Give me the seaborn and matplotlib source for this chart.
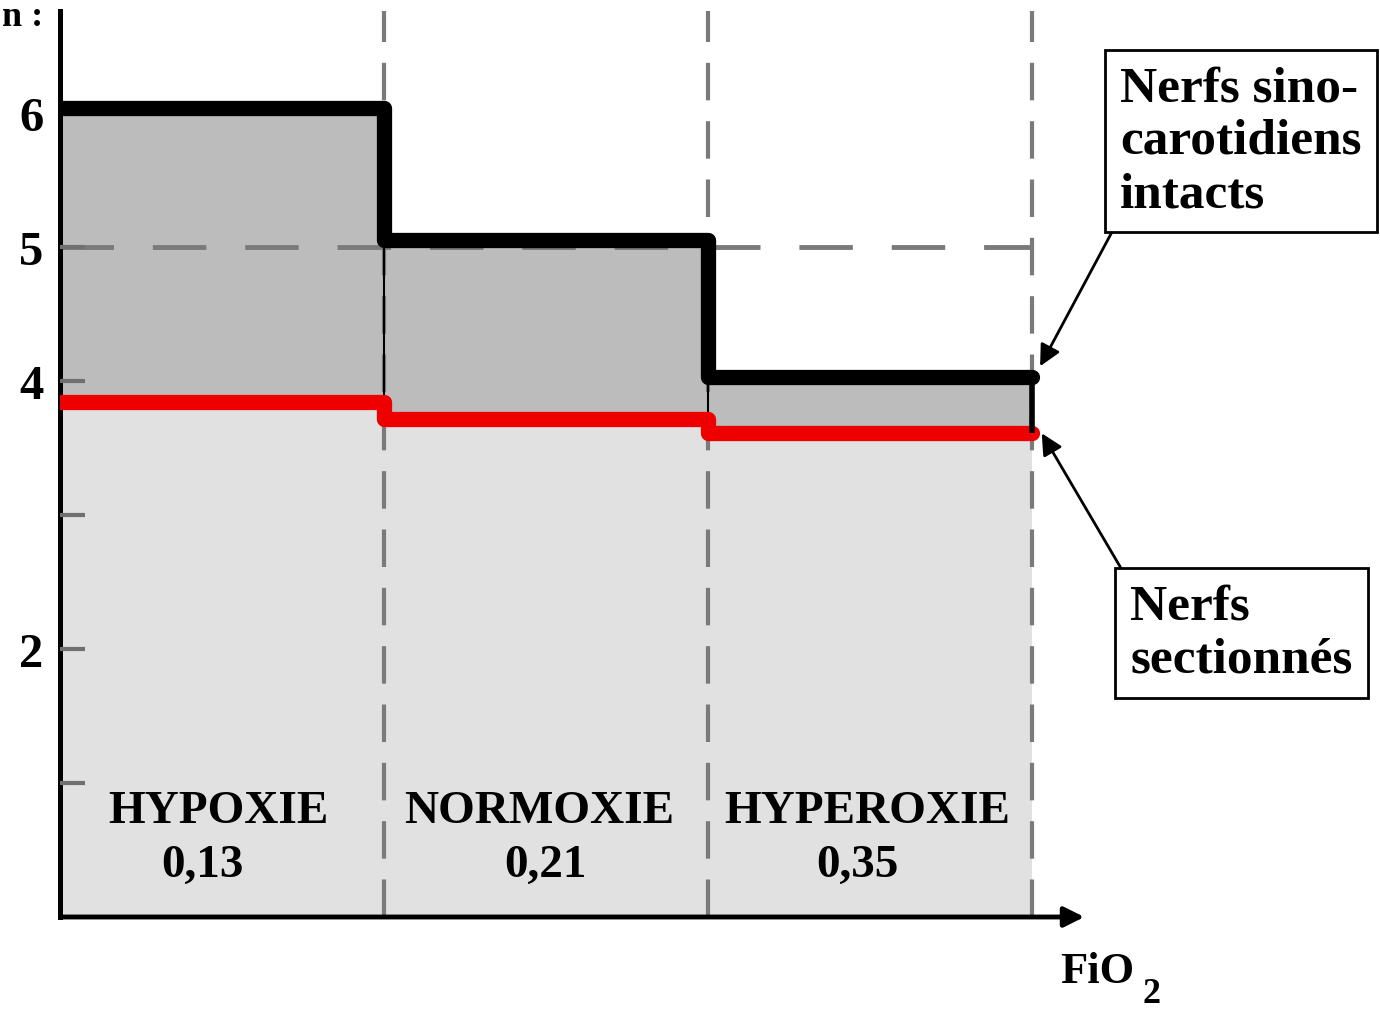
import matplotlib
matplotlib.use("Agg")
import numpy as np
import pandas as pd
import matplotlib.pyplot as plt
import seaborn as sns

# data
conditions = ["HYPOXIE", "NORMOXIE", "HYPEROXIE"]
fio2_labels = ["0,13", "0,21", "0,35"]
intact = [6.04, 5.05, 4.03]       # nerfs sino-carotidiens intacts
sectioned = [3.84, 3.72, 3.61]    # nerfs sectionnés
ytick_vals = [1, 2, 3, 4, 5, 6]
ytick_labels = ["", "2", "", "4", "5", "6"]

sns.set_theme(style="white")
plt.rcParams["font.family"] = ["Liberation Serif", "DejaVu Serif"]
plt.rcParams["font.weight"] = "bold"
plt.rcParams["text.color"] = "black"
plt.rcParams["ytick.labelcolor"] = "black"

fig = plt.figure(figsize=(13.8, 10.12), dpi=100)
W, H = 1380, 1012
# x: 0 -> 60px, 1 unit = 324px ; y: 0 -> 918px, 1 unit = 134px
ax = fig.add_axes([60 / W, (H - 918) / H, (1084 - 60) / W, (918 - 12) / H])
ax.set_xlim(0, (1084 - 60) / 324)
ax.set_ylim(0, (918 - 12) / 134)
ax.set_axisbelow(False)

edges = np.arange(len(conditions) + 1)
df = pd.DataFrame({
    "x": edges,
    "intact": intact + [intact[-1]],
    "sectioned": sectioned + [sectioned[-1]],
})

# fills
ax.fill_between(df["x"], 0, df["sectioned"], step="post", color="#e1e1e1", lw=0, zorder=1)
ax.fill_between(df["x"], df["sectioned"], df["intact"], step="post", color="#bcbcbc", lw=0, zorder=1)

# dashed guides
top = ax.get_ylim()[1]
for xv in edges[1:]:
    ax.plot([xv, xv], [0, top], color="#7a7a7a", lw=3, dashes=(9, 5), zorder=2)
ax.plot([0, 3], [5, 5], color="#7a7a7a", lw=3.5, dashes=(11, 8), zorder=2)

# thin edges of the grey blocks
for i in range(1, len(conditions)):
    ax.vlines(i, min(sectioned[i - 1], sectioned[i]), intact[i - 1], color="black", lw=1.5, zorder=3)

# series
sns.lineplot(data=df, x="x", y="sectioned", ax=ax, color="#ee0000", lw=11,
             drawstyle="steps-post", zorder=4)
sns.lineplot(data=df, x="x", y="intact", ax=ax, color="black", lw=11,
             drawstyle="steps-post", zorder=5)
ax.vlines(3, sectioned[-1], intact[-1], color="black", lw=4, zorder=5)

# axes styling
for s in ["top", "right", "bottom"]:
    ax.spines[s].set_visible(False)
ax.spines["left"].set_color("black")
ax.spines["left"].set_linewidth(3.6)
ax.annotate("", xy=(3.17, 0), xytext=(0, 0),
            arrowprops=dict(arrowstyle="-|>", lw=3.5, color="black", mutation_scale=30),
            annotation_clip=False, zorder=6)
ax.set_xticks([])
ax.set_yticks(ytick_vals)
ax.set_yticklabels(ytick_labels, fontsize=35, fontweight="bold", color="black")
ax.tick_params(axis="y", direction="in", length=18, width=3, color="#707070", pad=12, left=True)
ax.set_xlabel("")
ax.set_ylabel("")

# condition labels
word_dx = [-0.01, -0.02, -0.01]
num_dx = [-0.06, 0.0, -0.04]
for i, (c, f) in enumerate(zip(conditions, fio2_labels)):
    ax.text(i + 0.5 + word_dx[i], (918 - 812) / 134, c, ha="center", va="center",
            fontsize=34, fontweight="bold", color="black", zorder=6)
    ax.text(i + 0.5 + num_dx[i], (918 - 866) / 134, f, ha="center", va="center",
            fontsize=34, fontweight="bold", color="black", zorder=6)

# axis labels
fig.text(1060 / W, 1 - 972 / H, "FiO", fontsize=32, fontweight="bold", va="center", ha="left")
fig.text(1142 / W, 1 - 995 / H, "2", fontsize=26, fontweight="bold", va="center", ha="left")
fig.text(2 / W, 1 - 1 / H, "n :", fontsize=26, fontweight="bold", va="top", ha="left")

# annotations
box = dict(boxstyle="square,pad=0.3", fc="white", ec="black", lw=2)
ax.annotate("Nerfs sino-\ncarotidiens\nintacts", xy=(3.025, intact[-1] + 0.08),
            xytext=(1120 / W, 1 - 142 / H), textcoords="figure fraction",
            fontsize=37, fontweight="bold", va="center", ha="left", linespacing=1.2,
            bbox=box, annotation_clip=False, zorder=7,
            arrowprops=dict(arrowstyle="-|>", color="black", lw=2, mutation_scale=32,
                            relpos=(0, 0), shrinkA=0, shrinkB=0))
ax.annotate("Nerfs\nsectionnés", xy=(3.03, sectioned[-1]),
            xytext=(1130 / W, 1 - 634 / H), textcoords="figure fraction",
            fontsize=37, fontweight="bold", va="center", ha="left", linespacing=1.2,
            bbox=box, annotation_clip=False, zorder=7,
            arrowprops=dict(arrowstyle="-|>", color="black", lw=2, mutation_scale=32,
                            relpos=(0, 1), shrinkA=0, shrinkB=0))

fig.savefig("out.png", dpi=100)
